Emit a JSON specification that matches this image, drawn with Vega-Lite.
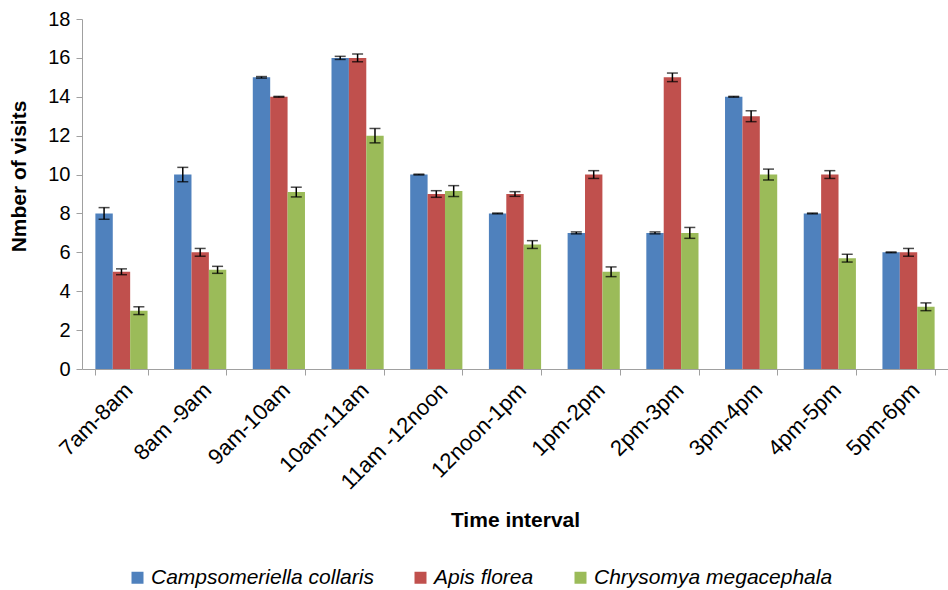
{
  "$schema": "https://vega.github.io/schema/vega-lite/v6.json",
  "width": 866,
  "height": 350,
  "autosize": {"type": "none"},
  "padding": {"left": 82, "top": 19, "right": 0, "bottom": 221},
  "background": "white",
  "config": {
    "view": {"stroke": null},
    "font": "Liberation Sans",
    "axisY": {
      "titleFontSize": 21, "titleFontWeight": "bold", "titleColor": "#000",
      "titleX": -63, "titleY": 157, "titleAngle": -90, "titleAlign": "center", "titleBaseline": "middle",
      "labelFontSize": 20, "labelColor": "#000", "labelPadding": 6, "labelOverlap": false, "labelFlush": false,
      "grid": false, "domainColor": "#a0a0a0", "tickColor": "#a0a0a0", "tickSize": 6
    }
  },
  "data": {"values": [
    {"time": "7am-8am", "species": "Campsomeriella collaris", "value": 8, "lo": 7.7, "hi": 8.3},
    {"time": "7am-8am", "species": "Apis florea", "value": 5, "lo": 4.85, "hi": 5.15},
    {"time": "7am-8am", "species": "Chrysomya megacephala", "value": 3, "lo": 2.8, "hi": 3.2},
    {"time": "8am -9am", "species": "Campsomeriella collaris", "value": 10, "lo": 9.63, "hi": 10.37},
    {"time": "8am -9am", "species": "Apis florea", "value": 6, "lo": 5.8, "hi": 6.2},
    {"time": "8am -9am", "species": "Chrysomya megacephala", "value": 5.1, "lo": 4.92, "hi": 5.28},
    {"time": "9am-10am", "species": "Campsomeriella collaris", "value": 15, "lo": 14.96, "hi": 15.04},
    {"time": "9am-10am", "species": "Apis florea", "value": 14, "lo": 13.98, "hi": 14.02},
    {"time": "9am-10am", "species": "Chrysomya megacephala", "value": 9.1, "lo": 8.85, "hi": 9.35},
    {"time": "10am-11am", "species": "Campsomeriella collaris", "value": 16, "lo": 15.92, "hi": 16.08},
    {"time": "10am-11am", "species": "Apis florea", "value": 16, "lo": 15.8, "hi": 16.2},
    {"time": "10am-11am", "species": "Chrysomya megacephala", "value": 12, "lo": 11.63, "hi": 12.37},
    {"time": "11am -12noon", "species": "Campsomeriella collaris", "value": 10, "lo": 9.98, "hi": 10.02},
    {"time": "11am -12noon", "species": "Apis florea", "value": 9, "lo": 8.83, "hi": 9.17},
    {"time": "11am -12noon", "species": "Chrysomya megacephala", "value": 9.15, "lo": 8.87, "hi": 9.43},
    {"time": "12noon-1pm", "species": "Campsomeriella collaris", "value": 8, "lo": 7.98, "hi": 8.02},
    {"time": "12noon-1pm", "species": "Apis florea", "value": 9, "lo": 8.88, "hi": 9.12},
    {"time": "12noon-1pm", "species": "Chrysomya megacephala", "value": 6.4, "lo": 6.2, "hi": 6.6},
    {"time": "1pm-2pm", "species": "Campsomeriella collaris", "value": 7, "lo": 6.95, "hi": 7.05},
    {"time": "1pm-2pm", "species": "Apis florea", "value": 10, "lo": 9.8, "hi": 10.2},
    {"time": "1pm-2pm", "species": "Chrysomya megacephala", "value": 5, "lo": 4.75, "hi": 5.25},
    {"time": "2pm-3pm", "species": "Campsomeriella collaris", "value": 7, "lo": 6.95, "hi": 7.05},
    {"time": "2pm-3pm", "species": "Apis florea", "value": 15, "lo": 14.78, "hi": 15.22},
    {"time": "2pm-3pm", "species": "Chrysomya megacephala", "value": 7, "lo": 6.72, "hi": 7.28},
    {"time": "3pm-4pm", "species": "Campsomeriella collaris", "value": 14, "lo": 13.98, "hi": 14.02},
    {"time": "3pm-4pm", "species": "Apis florea", "value": 13, "lo": 12.72, "hi": 13.28},
    {"time": "3pm-4pm", "species": "Chrysomya megacephala", "value": 10, "lo": 9.72, "hi": 10.28},
    {"time": "4pm-5pm", "species": "Campsomeriella collaris", "value": 8, "lo": 7.98, "hi": 8.02},
    {"time": "4pm-5pm", "species": "Apis florea", "value": 10, "lo": 9.8, "hi": 10.2},
    {"time": "4pm-5pm", "species": "Chrysomya megacephala", "value": 5.7, "lo": 5.5, "hi": 5.9},
    {"time": "5pm-6pm", "species": "Campsomeriella collaris", "value": 6, "lo": 5.98, "hi": 6.02},
    {"time": "5pm-6pm", "species": "Apis florea", "value": 6, "lo": 5.8, "hi": 6.2},
    {"time": "5pm-6pm", "species": "Chrysomya megacephala", "value": 3.2, "lo": 3.0, "hi": 3.4}
  ]},
  "encoding": {
    "x": {
      "field": "time", "type": "nominal", "sort": null,
      "scale": {"paddingInner": 0.337, "paddingOuter": 0.17},
      "axis": {
        "title": "Time interval",
        "titleFont": "Liberation Sans", "titleFontSize": 21, "titleFontWeight": "bold", "titleColor": "#000",
        "titleY": 151, "titleBaseline": "middle",
        "labelAngle": -45, "labelFontSize": 22, "labelColor": "#000", "labelPadding": 4,
        "domainColor": "#a0a0a0", "tickColor": "#a0a0a0", "tickBand": "extent", "tickSize": 6,
        "labelOverlap": false
      }
    },
    "xOffset": {"field": "species", "type": "nominal", "sort": ["Campsomeriella collaris", "Apis florea", "Chrysomya megacephala"], "scale": {"paddingInner": 0, "paddingOuter": 0}}
  },
  "layer": [
    {
      "mark": {"type": "bar"},
      "encoding": {
        "y": {
          "field": "value", "type": "quantitative",
          "scale": {"domain": [0, 18], "nice": false, "zero": true},
          "axis": {"title": "Nmber of visits", "values": [0, 2, 4, 6, 8, 10, 12, 14, 16, 18]}
        },
        "color": {
          "field": "species", "type": "nominal",
          "sort": ["Campsomeriella collaris", "Apis florea", "Chrysomya megacephala"],
          "scale": {"domain": ["Campsomeriella collaris", "Apis florea", "Chrysomya megacephala"], "range": ["#4F81BD", "#C0504D", "#9BBB59"]},
          "legend": {
            "title": null, "orient": "none", "direction": "horizontal",
            "legendX": 45, "legendY": 548,
            "symbolType": "square", "symbolSize": 144, "symbolStrokeWidth": 0,
            "labelFontSize": 21, "labelFontStyle": "italic", "labelColor": "#000", "labelOffset": 3,
            "columnPadding": 36, "padding": 0, "labelLimit": 400
          }
        }
      }
    },
    {
      "mark": {"type": "rule", "color": "#000", "strokeWidth": 1.5},
      "encoding": {
        "y": {"field": "lo", "type": "quantitative", "axis": {"title": "Nmber of visits", "values": [0, 2, 4, 6, 8, 10, 12, 14, 16, 18]}},
        "y2": {"field": "hi"}
      }
    },
    {
      "mark": {"type": "tick", "color": "#000", "thickness": 1.5, "size": 11},
      "encoding": {"y": {"field": "lo", "type": "quantitative", "axis": {"title": "Nmber of visits", "values": [0, 2, 4, 6, 8, 10, 12, 14, 16, 18]}}}
    },
    {
      "mark": {"type": "tick", "color": "#000", "thickness": 1.5, "size": 11},
      "encoding": {"y": {"field": "hi", "type": "quantitative", "axis": {"title": "Nmber of visits", "values": [0, 2, 4, 6, 8, 10, 12, 14, 16, 18]}}}
    }
  ]
}
